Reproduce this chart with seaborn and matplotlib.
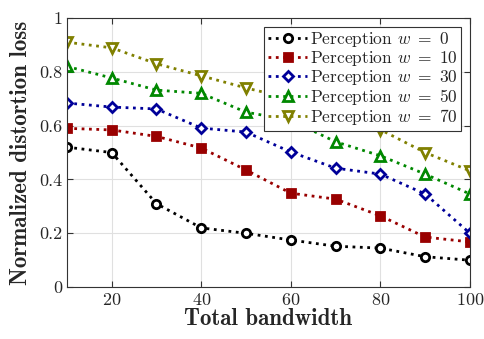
import numpy as np
import pandas as pd
import matplotlib
matplotlib.use("Agg")
import matplotlib.pyplot as plt
import seaborn as sns

# Data
bandwidth = [10, 20, 30, 40, 50, 60, 70, 80, 90, 100]
loss_w0 = [0.52, 0.50, 0.31, 0.22, 0.20, 0.175, 0.152, 0.145, 0.113, 0.10]
loss_w10 = [0.59, 0.584, 0.56, 0.517, 0.435, 0.349, 0.327, 0.265, 0.186, 0.168]
loss_w30 = [0.684, 0.669, 0.662, 0.591, 0.576, 0.502, 0.442, 0.42, 0.346, 0.20]
loss_w50 = [0.82, 0.777, 0.732, 0.72, 0.65, 0.62, 0.54, 0.488, 0.42, 0.346]
loss_w70 = [0.91, 0.889, 0.83, 0.785, 0.74, 0.70, 0.645, 0.585, 0.50, 0.432]
weights = [0, 10, 30, 50, 70]

series = [loss_w0, loss_w10, loss_w30, loss_w50, loss_w70]
colors = ['#000000', '#990000', '#000099', '#008800', '#808000']
markers = ['o', 's', 'D', '^', 'v']
faces = ['white', '#990000', 'white', 'white', 'white']
msizes = [6, 6, 5, 7, 7]

sns.set_style("ticks")
plt.rcParams['font.family'] = ['cmr10']
plt.rcParams['mathtext.fontset'] = 'cm'
plt.rcParams['axes.formatter.use_mathtext'] = True

fig = plt.figure(figsize=(4.85, 3.39), dpi=100)
ax = fig.add_axes([0.138, 0.153, 0.831, 0.794])

for w, vals, c, m, fc, ms in zip(weights, series, colors, markers, faces, msizes):
    df = pd.DataFrame({'bw': bandwidth, 'loss': vals})
    sns.lineplot(data=df, x='bw', y='loss', ax=ax, color=c, linestyle=':',
                 linewidth=2, marker=m, markersize=ms, markerfacecolor=fc,
                 markeredgecolor=c, markeredgewidth=2,
                 label=f'Perception $w\\ =\\ {w}$')

ax.set_xlim(10, 100)
ax.set_ylim(0, 1)
ax.set_xticks([20, 40, 60, 80, 100])
ax.set_yticks([0, 0.2, 0.4, 0.6, 0.8, 1])
ax.set_yticklabels(['0', '0.2', '0.4', '0.6', '0.8', '1'])
ax.grid(True, color='#e0e0e0', linewidth=0.8)
ax.set_axisbelow(True)
ax.tick_params(direction='in', top=True, right=True, labelsize=13,
               length=4, width=0.8, colors='#333333', labelcolor='#262626')
for s in ax.spines.values():
    s.set_color('#333333')
    s.set_linewidth(0.8)

ax.set_xlabel('Total bandwidth', fontsize=16.5, family='cmb10', labelpad=0)
ax.set_ylabel('Normalized distortion loss', fontsize=16.5, family='cmb10', labelpad=5)

leg = ax.legend(loc='upper right', fontsize=12.5, frameon=True, fancybox=False,
                edgecolor='#333333', framealpha=1, handlelength=2.3,
                handletextpad=0.15, labelspacing=0.0, borderpad=0.2,
                borderaxespad=0.5)
leg.get_frame().set_linewidth(0.8)

fig.savefig('out.png', dpi=100)
